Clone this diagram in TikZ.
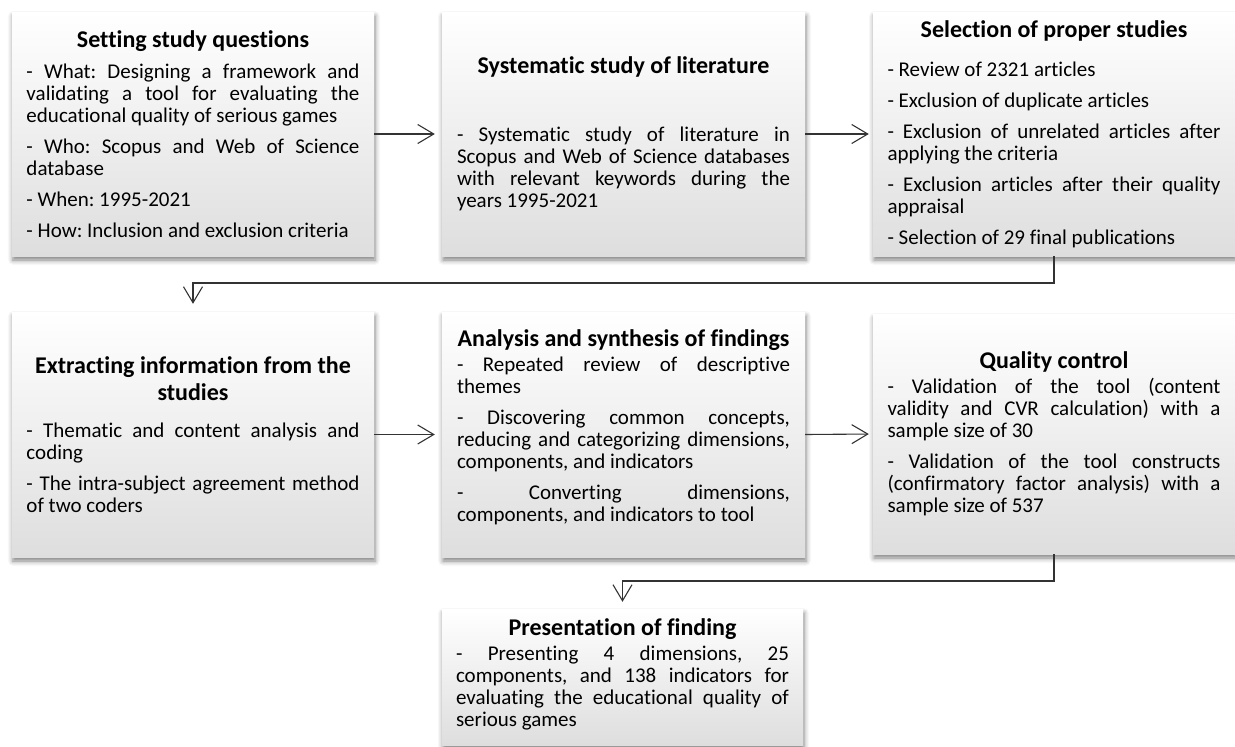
\documentclass[tikz,border=0pt]{standalone}
\usepackage{fontspec}
\setmainfont{Carlito}[Ligatures=NoCommon]
\usetikzlibrary{arrows.meta,shadows.blur}
\frenchspacing
\newcommand\bodyfont{\fontsize{21}{22}\selectfont\frenchspacing\setlength\parskip{9pt}\setlength\parindent{0pt}\lineskiplimit=-20pt\tolerance=10000\hbadness=10000\hyphenpenalty=10000\exhyphenpenalty=10000}
\newcommand\bxttl[2]{{\centering\bfseries\fontsize{24}{27}\selectfont #2\par}\vspace{#1}}
\tikzset{
  stagebox/.style={draw=none, top color=white, bottom color=black!13,
    minimum height=244pt, minimum width=362pt, text width=333pt, align=justify,
    inner sep=0pt, font=\bodyfont,
    blur shadow={shadow xshift=1pt, shadow yshift=-4pt, shadow blur radius=5pt, shadow opacity=50}},
  conn/.style={draw=black!80, line width=1.1pt, -{Straight Barb[length=16pt,width=19pt,line width=1.1pt]}},
}
\begin{document}
\begin{tikzpicture}[x=1pt,y=-1pt]
\useasboundingbox (0,0) rectangle (1235,747);
\node[stagebox] (b1) at (193,134) {\bxttl{0pt}{Setting study questions}
- What: Designing a framework and\linebreak validating a tool for evaluating the\linebreak educational quality of serious games\par
- Who: Scopus and Web of Science\linebreak database\par
- When: 1995-2021\par
- How: Inclusion and exclusion criteria\par};
\node[stagebox, minimum width=363pt] (b2) at (623.5,134) {\bxttl{37pt}{Systematic study of literature}
- Systematic study of literature in\linebreak Scopus and Web of Science databases\linebreak with relevant keywords during the\linebreak years 1995-2021\par};
\node[stagebox] (b3) at (1054,134) {\bxttl{8pt}{Selection of proper studies}
- Review of 2321 articles\par
- Exclusion of duplicate articles\par
- Exclusion of unrelated articles after\linebreak applying the criteria\par
- Exclusion articles after their quality\linebreak appraisal\par
- Selection of 29 final publications\par};
\node[stagebox, minimum height=245pt] (b4) at (193,434.5) {\bxttl{6pt}{Extracting information from the\\ studies}
- Thematic and content analysis and\linebreak coding\par
- The intra-subject agreement method\linebreak of two coders\par};
\node[stagebox, minimum width=363pt, minimum height=245pt] (b5) at (623.5,434.5) {\bxttl{-6pt}{Analysis and synthesis of findings}
- Repeated review of descriptive\linebreak themes\par
- Discovering common concepts,\linebreak reducing and categorizing dimensions,\linebreak components, and indicators\par
- Converting dimensions,\linebreak components, and indicators to tool\par\kern14pt};
\node[stagebox, minimum height=240pt] (b6) at (1054,434) {\bxttl{-6pt}{Quality control}
- Validation of the tool (content\linebreak validity and CVR calculation) with a\linebreak sample size of 30\par
- Validation of the tool constructs\linebreak (confirmatory factor analysis) with a\linebreak sample size of 537\par};
\node[stagebox, minimum width=361pt, minimum height=136pt] (b7) at (622.5,677) {\bxttl{-6pt}{Presentation of finding}
- Presenting 4 dimensions, 25\linebreak components, and 138 indicators for\linebreak evaluating the educational quality of\linebreak serious games\par\kern6pt};
\coordinate (t1) at (600,283);
\coordinate (t2) at (800,581);
\draw[conn, shorten >=7pt] (b1.east) -- (b2.west);
\draw[conn, shorten >=4pt] (b2.east) -- (b3.west);
\draw[conn, shorten >=8pt] (b3.south) |- (t1) -| (b4.north);
\draw[conn, shorten >=7pt] (b4.east) -- (b5.west);
\draw[conn, shorten >=4pt] (b5.east) -- (b6.west);
\draw[conn, shorten >=7pt] (b6.south) |- (t2) -| (b7.north);
\end{tikzpicture}
\end{document}
